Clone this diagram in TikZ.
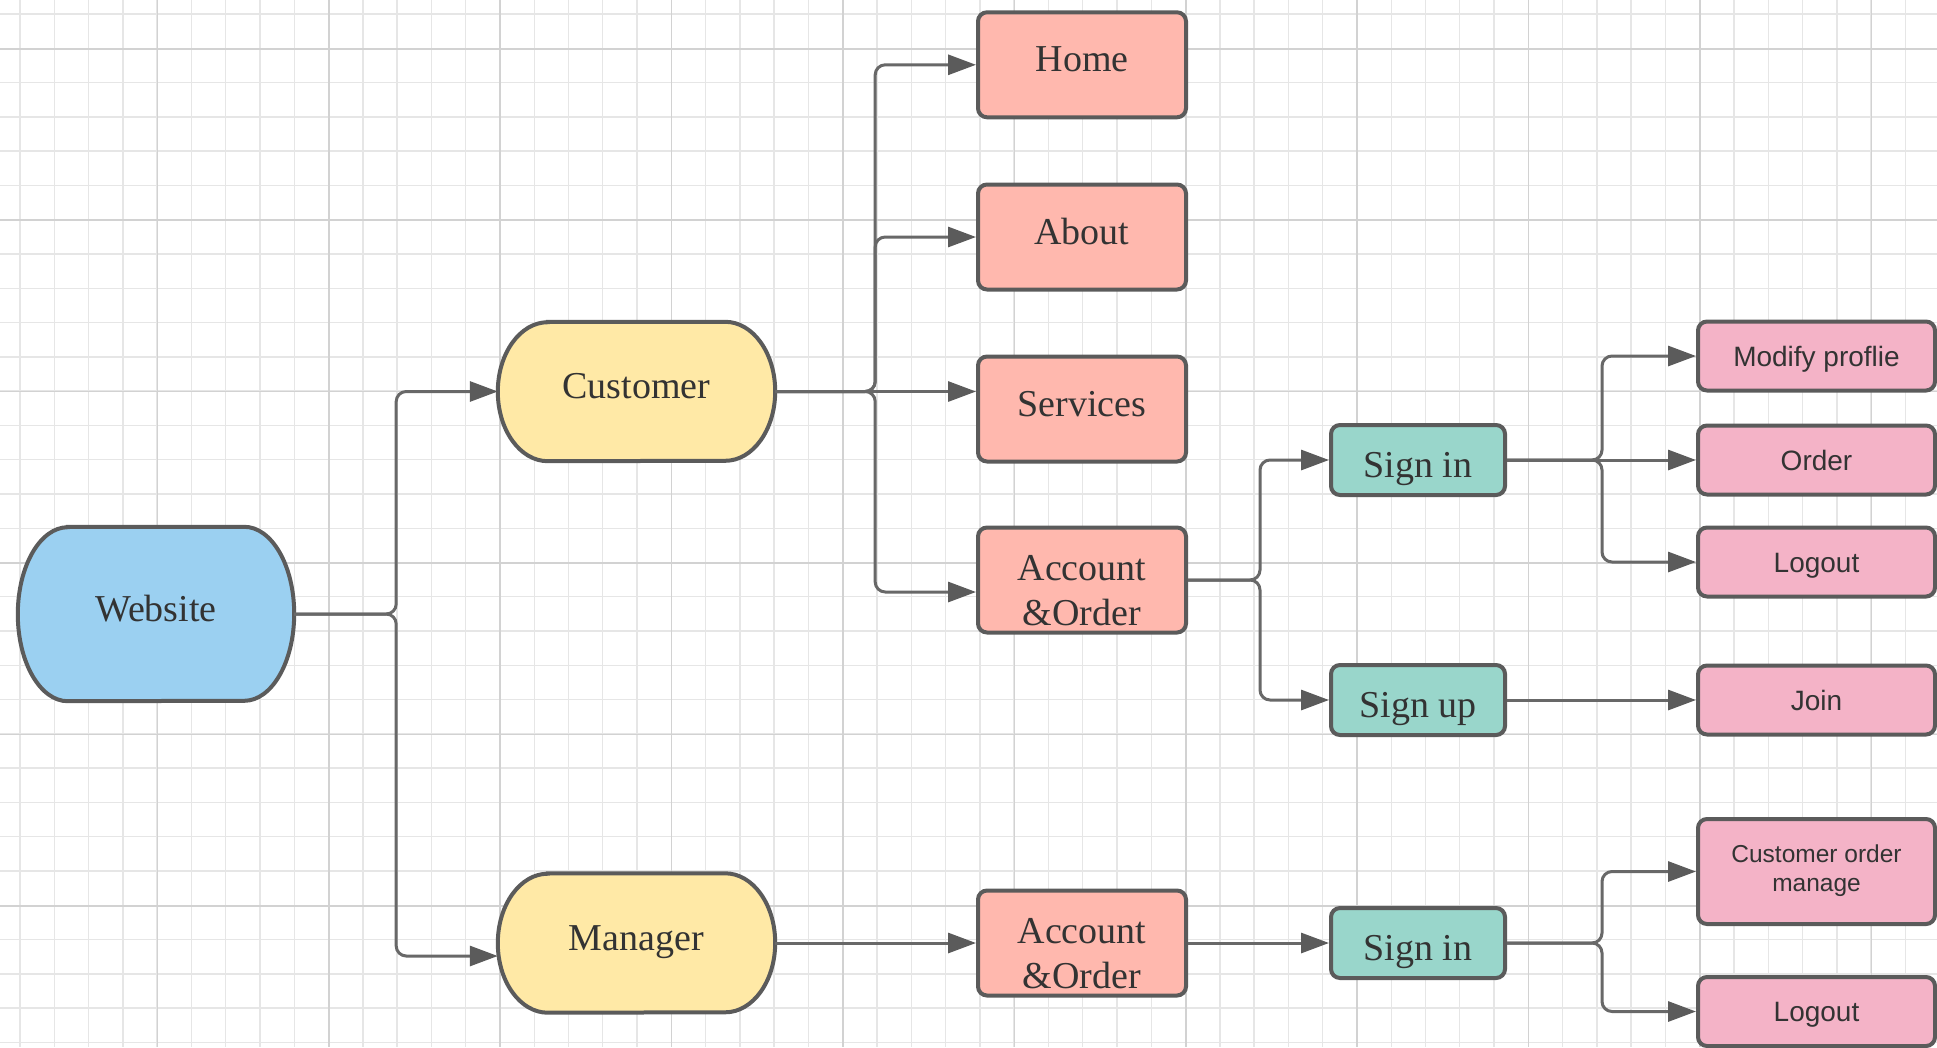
\documentclass[tikz,border=0pt]{standalone}
\usepackage{fontspec}
\setmainfont{Liberation Serif}
\newfontfamily\labelsans{Liberation Sans}
\usetikzlibrary{arrows.meta,calc,backgrounds}

\definecolor{webblue}{HTML}{9BD0F1}
\definecolor{termyellow}{HTML}{FFE9A6}
\definecolor{salmon}{HTML}{FFB8AE}
\definecolor{signteal}{HTML}{99D6CB}
\definecolor{pinkbox}{HTML}{F4B3C7}
\definecolor{edge}{HTML}{5B5B5B}
\definecolor{wire}{HTML}{686868}
\definecolor{tipgray}{HTML}{5B5B5B}
\definecolor{ink}{HTML}{333333}
\definecolor{gridminor}{HTML}{E6E6E6}
\definecolor{gridmajor}{HTML}{D2D2D2}

% capsule outline (flat top and bottom, elliptical sides) around a named node
\newcommand\capsule[3]{%
  \draw[edge line, fill=#3]
    ($(#1.north west)+(50,0)$) -- ($(#1.north east)+(-50,0)$)
    arc[start angle=90, end angle=-90, x radius=50pt, y radius=#2pt]
    -- ($(#1.south west)+(50,0)$)
    arc[start angle=270, end angle=90, x radius=50pt, y radius=#2pt] -- cycle;}

\begin{document}
\begin{tikzpicture}[x=1pt,y=1pt,
  edge line/.style={draw=edge, line width=4pt},
  serif text/.style={text=ink, font=\fontsize{38pt}{45pt}\selectfont},
  term/.style={serif text, inner sep=0pt, minimum width=277pt,
    text height=26pt, text depth=12pt},
  box/.style={edge line, rounded corners=9pt, inner sep=0pt},
  pagebox/.style={box, serif text, fill=salmon, minimum width=208pt,
    minimum height=105pt, text height=26pt, text depth=12pt},
  twoline/.style={pagebox, text height=90pt, text depth=0pt},
  signbox/.style={box, serif text, fill=signteal, minimum width=174pt,
    minimum height=70pt, text height=34pt, text depth=0pt},
  actionbox/.style={box, fill=pinkbox, text=ink, minimum width=237pt,
    minimum height=69pt, font=\labelsans\fontsize{28pt}{34pt}\selectfont,
    text height=20pt, text depth=0pt},
  conn/.style={draw=wire, line width=3pt, rounded corners=10pt,
    -{Triangle[length=28pt,width=20pt,color=tipgray]}},
  minor/.style={draw=gridminor, line width=1.4pt},
  major/.style={draw=gridmajor, line width=1.6pt}]

\useasboundingbox (0,0) rectangle (1937,-1047);

% ---- nodes ----
\node[term, minimum width=276pt, minimum height=174pt] (web) at (156,-614) {Website};
\node[term, minimum height=139pt] (cust) at (636.5,-391.5) {Customer};
\node[term, minimum height=139pt] (mgr) at (636.5,-943) {Manager};

\node[pagebox] (home) at (1082,-64.8) {Home};
\node[pagebox] (about) at (1082,-237) {About};
\node[pagebox] (serv) at (1082,-409) {Services};
\node[twoline] (acc) at (1082,-580) {\parbox[b]{200pt}{\centering Account\\\&Order}};
\node[twoline] (accm) at (1082,-943) {\parbox[b]{200pt}{\centering Account\\\&Order}};

\node[signbox] (signin) at (1418,-460) {Sign in};
\node[signbox] (signup) at (1418,-700) {Sign up};
\node[signbox] (signinm) at (1418,-943) {Sign in};

\node[actionbox] (modify) at (1816.5,-356) {Modify proflie};
\node[actionbox] (order) at (1816.5,-460) {Order};
\node[actionbox] (logout) at (1816.5,-562) {Logout};
\node[actionbox] (join) at (1816.5,-700) {Join};
\node[actionbox, minimum height=105pt, text height=40pt,
  font=\labelsans\fontsize{24.5pt}{29.4pt}\selectfont] (com) at (1816.5,-871.5)
  {\parbox[b]{220pt}{\centering Customer order\\manage}};
\node[actionbox] (logoutm) at (1816.5,-1011.5) {Logout};

% ---- grid paper and capsule outlines ----
\begin{scope}[on background layer]
  \fill[white] (0,0) rectangle (1937,-1047);
  \begin{scope}
    \clip (0,0) rectangle (1937,-1047);
    \foreach \i in {0,...,56} {
      \pgfmathsetmacro\gx{20+34.28*\i}
      \draw[minor] (\gx,0) -- (\gx,-1047);}
    \foreach \i in {0,...,30} {
      \pgfmathsetmacro\gy{14+34.28*\i}
      \draw[minor] (0,-\gy) -- (1937,-\gy);}
    \foreach \i in {0,...,10} {
      \pgfmathsetmacro\gx{157.3+171.4*\i}
      \draw[major] (\gx,0) -- (\gx,-1047);}
    \foreach \i in {0,...,5} {
      \pgfmathsetmacro\gy{48.7+171.4*\i}
      \draw[major] (0,-\gy) -- (1937,-\gy);}
  \end{scope}
  \capsule{web}{87}{webblue}
  \capsule{cust}{69.5}{termyellow}
  \capsule{mgr}{69.5}{termyellow}
\end{scope}

% ---- connectors ----
\draw[conn] (web.east) -- ++(102,0) |- (cust.west);
\draw[conn] (web.east) -- ++(102,0) |- ([yshift=-13pt]mgr.west);

\draw[conn] (cust.east) -- ++(100,0) |- (home.west);
\draw[conn] (cust.east) -- ++(100,0) |- (about.west);
\draw[conn] (cust.east) -- (cust.east -| serv.west);
\draw[conn] (cust.east) -- ++(100,0) |- ([yshift=-12pt]acc.west);

\draw[conn] (acc.east) -- ++(72,0) |- (signin.west);
\draw[conn] (acc.east) -- ++(72,0) |- (signup.west);

\draw[conn] (signin.east) -- ++(95,0) |- (modify.west);
\draw[conn] (signin.east) -- (order.west);
\draw[conn] (signin.east) -- ++(95,0) |- (logout.west);

\draw[conn] (signup.east) -- (join.west);

\draw[conn] (mgr.east) -- (accm.west);
\draw[conn] (accm.east) -- (signinm.west);
\draw[conn] (signinm.east) -- ++(95,0) |- (com.west);
\draw[conn] (signinm.east) -- ++(95,0) |- (logoutm.west);
\end{tikzpicture}
\end{document}
